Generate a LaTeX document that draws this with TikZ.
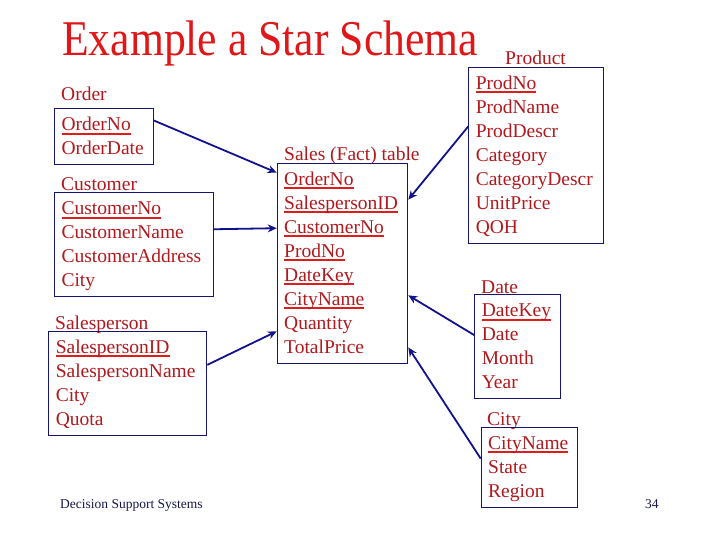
\documentclass[tikz,border=0pt]{standalone}
\usepackage{graphicx}
\usepackage{fontspec}
\setmainfont{Liberation Serif}
\usetikzlibrary{arrows.meta}

\definecolor{titlered}{RGB}{224,22,24}
\definecolor{fieldred}{RGB}{176,26,30}
\definecolor{keyred}{RGB}{222,30,30}
\definecolor{boxblue}{RGB}{22,22,112}
\definecolor{linkblue}{RGB}{18,18,140}
\definecolor{footblue}{RGB}{24,24,80}

% one row of a table, 24pt high
\newcommand{\rw}{\rule[-6pt]{0pt}{24pt}}
% underlined key field
\newcommand{\keyfield}[1]{\setbox0\hbox{#1}\rlap{\color{keyred}\rule[-4pt]{\wd0}{1.8pt}}#1}

\tikzset{
	tbl/.style={draw=boxblue, line width=1pt, anchor=north west, align=left, inner xsep=7pt, inner ysep=4pt, text=fieldred, font=\fontsize{19.5}{24}\selectfont},
	tbltitle/.style={anchor=base west, inner sep=0pt, text=fieldred, font=\fontsize{19.5}{24}\selectfont},
	link/.style={draw=linkblue, line width=1.8pt, -{Stealth[length=9pt,width=8pt]}},
}

\begin{document}
\begin{tikzpicture}[x=1pt,y=-1pt]
	\useasboundingbox[fill=white] (0,0) rectangle (720,540);
	
	\node[anchor=base west, inner sep=0pt, text=titlered, font=\fontsize{50}{60}\selectfont] (title) at (62,55.5) {\scalebox{0.873}[1]{Example a Star Schema}};
	
	% dimension tables on the left
	\node[tbltitle] (ordertitle) at (61,101) {Order};
	\node[tbl, text width=85pt] (order) at (54,108.3) {\rw\keyfield{OrderNo}\\\rw OrderDate};
	
	\node[tbltitle] (customertitle) at (61,191) {Customer};
	\node[tbl, text width=145pt] (customer) at (54,192.3) {\rw\keyfield{CustomerNo}\\\rw CustomerName\\\rw CustomerAddress\\\rw City};
	
	\node[tbltitle] (salespersontitle) at (55,329) {Salesperson};
	\node[tbl, text width=144pt] (salesperson) at (48.3,330.7) {\rw\keyfield{SalespersonID}\\\rw SalespersonName\\\rw City\\\rw Quota};
	
	% fact table
	\node[tbltitle] (facttitle) at (284,161) {Sales (Fact) table};
	\node[tbl, text width=116.6pt] (fact) at (276.7,162.7) {\rw\keyfield{OrderNo}\\\rw\keyfield{SalespersonID}\\\rw\keyfield{CustomerNo}\\\rw\keyfield{ProdNo}\\\rw\keyfield{DateKey}\\\rw\keyfield{CityName}\\\rw Quantity\\\rw TotalPrice};
	
	% dimension tables on the right
	\node[tbltitle] (producttitle) at (505,65) {Product};
	\node[tbl, text width=121pt] (product) at (468.3,66.7) {\rw\keyfield{ProdNo}\\\rw ProdName\\\rw ProdDescr\\\rw Category\\\rw CategoryDescr\\\rw UnitPrice\\\rw QOH};
	
	\node[tbltitle] (datetitle) at (481,293) {Date};
	\node[tbl, text width=72pt] (date) at (474.3,294.3) {\rw\keyfield{DateKey}\\\rw Date\\\rw Month\\\rw Year};
	
	\node[tbltitle] (citytitle) at (487,425) {City};
	\node[tbl, text width=82.6pt] (city) at (480.7,426.7) {\rw\keyfield{CityName}\\\rw State\\\rw Region};
	
	% links to the fact table
	\draw[link] (order.18) -- (fact.126);
	\draw[link] (customer.11) -- (fact.152);
	\draw[link] (salesperson.13) -- (fact.226);
	\draw[link] (product.157) -- (fact.44);
	\draw[link] (date.165) -- (fact.-26);
	\draw[link] (city.170) -- (fact.-52);
	
	\node[anchor=base west, inner sep=0pt, text=footblue, font=\fontsize{13.5}{16}\selectfont] (footer) at (60,508) {Decision Support Systems};
	\node[anchor=base west, inner sep=0pt, text=footblue, font=\fontsize{13.5}{16}\selectfont] (pagenum) at (645,508) {34};
\end{tikzpicture}
\end{document}
